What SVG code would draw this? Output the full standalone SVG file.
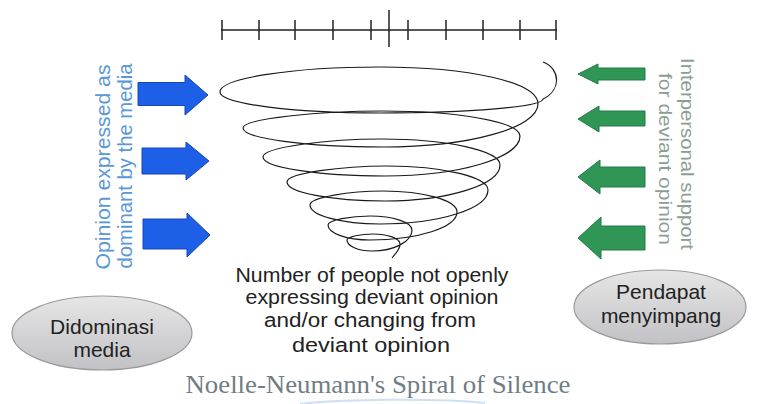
<svg xmlns="http://www.w3.org/2000/svg" width="765" height="404" viewBox="0 0 765 404">
<defs>
<linearGradient id="ellGrad" x1="0" y1="0" x2="0" y2="1">
<stop offset="0" stop-color="#e6e6e6"/>
<stop offset="1" stop-color="#c2c2c6"/>
</linearGradient>
<style>
.tick{stroke:#222;stroke-width:1.5;fill:none}
.spiral{stroke:#1a1a1a;stroke-width:1.2;fill:none;stroke-linejoin:round}
.blue{fill:#1e5fe8;stroke:#1747b5;stroke-width:1}
.green{fill:#2f9656;stroke:#237a44;stroke-width:1}
.btxt{font-family:"Liberation Sans",Arial,sans-serif;font-size:20px;fill:#5b98d6}
.gtxt{font-family:"Liberation Sans",Arial,sans-serif;font-size:19px;fill:#8c9e94}
.ell{fill:url(#ellGrad);stroke:#9a9a9a;stroke-width:1.2}
.etxt{font-family:"Liberation Sans",Arial,sans-serif;font-size:21px;fill:#222;text-anchor:middle}
.ctxt{font-family:"Liberation Sans",Arial,sans-serif;font-size:20px;fill:#222;text-anchor:middle}
.title{font-family:"Liberation Serif","Times New Roman",serif;font-size:26px;fill:#6f7d84;text-anchor:middle}
</style>
</defs>
<rect width="765" height="404" fill="#ffffff"/>

<g id="scale">
<line class="tick" x1="221" y1="30" x2="557" y2="30"/>
<line class="tick" x1="222" y1="20" x2="222" y2="40"/>
<line class="tick" x1="259" y1="20" x2="259" y2="40"/>
<line class="tick" x1="295" y1="20" x2="295" y2="40"/>
<line class="tick" x1="333" y1="20" x2="333" y2="40"/>
<line class="tick" x1="371" y1="20" x2="371" y2="40"/>
<line class="tick" x1="389" y1="10" x2="389" y2="47"/>
<line class="tick" x1="408" y1="20" x2="408" y2="40"/>
<line class="tick" x1="446" y1="20" x2="446" y2="40"/>
<line class="tick" x1="483" y1="20" x2="483" y2="40"/>
<line class="tick" x1="520" y1="20" x2="520" y2="40"/>
<line class="tick" x1="556" y1="20" x2="556" y2="40"/>
</g>

<g id="spiral">
<path class="spiral" d="M543 62 C560 68 562 90 543 99
C543 106.7 469.7 113 380 113
C292 113 220 103.6 220 92
C220 78.3 292 67 380 67
C468.6 67 538 82 538 104
C538 127.7 469.9 147 383 147
C306 147 243 138.5 243 128
C243 118.7 320 111 383 111
C458 111 520 122 520 136
C520 158 459 176 385 176
C318 176 263 167.5 263 157
C263 147 328.5 139 382 139
C447 139 500 150.7 500 165
C500 184.8 448 201 385 201
C331 201 287 192.5 287 182
C287 173.2 342 166 387 166
C442.5 166 488 176.8 488 190
C488 208.7 439.4 224 380 224
C341.5 224 310 215.5 310 205
C310 197.3 350 191 383 191
C423.7 191 457 200.5 457 212
C457 227.4 417.9 240 370 240
C346.9 240 328 233.3 328 225
C328 220 351 216 370 216
C393 216 412 222.3 412 230
C412 241.6 394 251 372 251
C358 251 347 246 347 240
C347 236.7 361.3 234 373 234
C387.9 234 400 238.5 400 244
C400 250 395 254 392 258"/>
</g>

<g id="media-arrows">
<polygon class="blue" points="138,82.5 185,82.5 185,75 208,95 185,115 185,105.5 138,105.5"/>
<polygon class="blue" points="142,148 186,148 186,142 209,161 186,180 186,174 142,174"/>
<polygon class="blue" points="143,219 187,219 187,213 210,235 187,257 187,249 143,249"/>
</g>

<g id="support-arrows">
<polygon class="green" points="645,68 598,68 598,64 578,74 598,84 598,80 645,80"/>
<polygon class="green" points="645,111 599,111 599,106 578,119 599,132 599,126 645,126"/>
<polygon class="green" points="645,167 600,167 600,160 578,177 600,194 600,187 645,187"/>
<polygon class="green" points="645,226 601,226 601,217 578,238 601,259 601,250 645,250"/>
</g>

<g id="media-label">
<text class="btxt" x="110" y="167" text-anchor="middle" transform="rotate(-90 110 167)" textLength="205" lengthAdjust="spacingAndGlyphs">Opinion expressed as</text>
<text class="btxt" x="132" y="166" text-anchor="middle" transform="rotate(-90 132 166)" textLength="205" lengthAdjust="spacingAndGlyphs">dominant by the media</text>
</g>

<g id="support-label">
<text class="gtxt" x="681" y="154" text-anchor="middle" transform="rotate(90 681 154)" textLength="192" lengthAdjust="spacingAndGlyphs">Interpersonal support</text>
<text class="gtxt" x="659" y="159" text-anchor="middle" transform="rotate(90 659 159)" textLength="172" lengthAdjust="spacingAndGlyphs">for deviant opinion</text>
</g>

<g id="didominasi">
<ellipse class="ell" cx="102" cy="333" rx="90" ry="37"/>
<text class="etxt" x="102" y="334">Didominasi</text>
<text class="etxt" x="102" y="357">media</text>
</g>

<g id="pendapat">
<ellipse class="ell" cx="660" cy="307" rx="86" ry="37"/>
<text class="etxt" x="661" y="299">Pendapat</text>
<text class="etxt" x="661" y="323">menyimpang</text>
</g>

<g id="center-label">
<text class="ctxt" x="372" y="282" textLength="273" lengthAdjust="spacingAndGlyphs">Number of people not openly</text>
<text class="ctxt" x="372" y="304" textLength="253" lengthAdjust="spacingAndGlyphs">expressing deviant opinion</text>
<text class="ctxt" x="370" y="327" textLength="212" lengthAdjust="spacingAndGlyphs">and/or changing from</text>
<text class="ctxt" x="371" y="352" textLength="158" lengthAdjust="spacingAndGlyphs">deviant opinion</text>
</g>

<g id="title">
<text class="title" x="378" y="393" textLength="385" lengthAdjust="spacingAndGlyphs">Noelle-Neumann's Spiral of Silence</text>
<path d="M300 404 C340 399 440 398 485 403" fill="none" stroke="#cfe0f4" stroke-width="2"/>
</g>
</svg>
